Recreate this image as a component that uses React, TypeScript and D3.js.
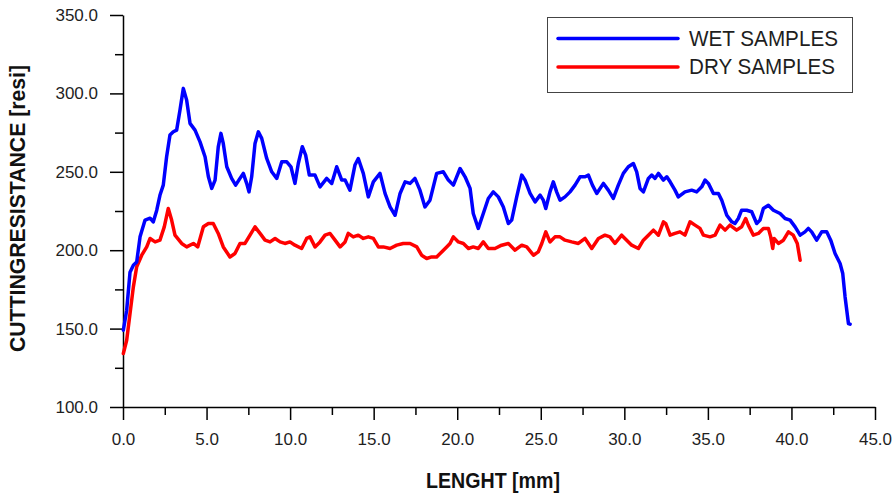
import * as d3 from "d3";
import { useRef, useEffect } from "react";

// длина образца, мм (влажные)
const wetLength = [
  0.02, 0.22, 0.42, 0.62, 0.82, 1.02, 1.32, 1.62, 1.81, 2.02, 2.21, 2.41, 2.61, 2.81, 3.01, 3.21, 3.41, 3.61, 3.81, 4.01,
  4.31, 4.61, 4.91, 5.11, 5.31, 5.51, 5.7, 5.86, 6.0, 6.21, 6.5, 6.74, 7.0, 7.2, 7.4, 7.54, 7.7, 7.9, 8.1, 8.3,
  8.6, 8.9, 9.2, 9.5, 9.8, 10.05, 10.29, 10.49, 10.73, 10.93, 11.15, 11.49, 11.79, 12.19, 12.49, 12.79, 13.09, 13.29, 13.58, 13.88,
  14.08, 14.38, 14.68, 14.98, 15.38, 15.68, 15.98, 16.28, 16.58, 16.88, 17.18, 17.47, 17.77, 18.07, 18.37, 18.77, 19.17, 19.47, 19.77, 20.17,
  20.47, 20.77, 20.96, 21.26, 21.56, 21.86, 22.16, 22.46, 22.76, 23.06, 23.26, 23.56, 23.86, 24.06, 24.36, 24.66, 24.96, 25.15, 25.3, 25.55,
  25.75, 25.95, 26.15, 26.45, 26.75, 27.05, 27.35, 27.65, 27.85, 28.09, 28.35, 28.75, 29.04, 29.34, 29.64, 29.94, 30.24, 30.54, 30.74, 30.94,
  31.14, 31.44, 31.64, 31.84, 32.04, 32.34, 32.54, 32.74, 33.03, 33.23, 33.63, 34.03, 34.33, 34.63, 34.83, 35.03, 35.33, 35.63, 35.83, 36.13,
  36.43, 36.62, 36.82, 37.02, 37.32, 37.62, 37.92, 38.12, 38.32, 38.62, 38.92, 39.32, 39.62, 39.92, 40.22, 40.52, 40.81, 41.01, 41.21, 41.51,
  41.81, 42.11, 42.35, 42.61, 42.91, 43.07, 43.21, 43.41, 43.51,
];
const wetResistance = [
  149, 161.7, 186, 190.4, 192.5, 208.5, 219.2, 220.4, 218, 225.5, 235, 241.5, 259.6, 273.4, 275.5, 276.6, 289.4, 303.2, 295.7, 280.9,
  276.6, 269.1, 259.6, 246.8, 239.4, 244.7, 265.9, 274.5, 268.1, 253.2, 245.8, 241.5, 245.8, 249, 242.6, 237.2, 246.8, 268.1, 275.5, 271.3,
  258.5, 250, 245.8, 256.4, 256.4, 253.2, 242.6, 255.3, 266, 260.6, 247.9, 247.9, 240.4, 245.8, 242.6, 253.2, 244.7, 244.7, 238.3, 254.3,
  258.5, 249, 234, 243.6, 249, 236.2, 227.6, 222.3, 236.2, 243.6, 242.6, 245.8, 238.3, 227.6, 231.9, 249, 250, 244.7, 241.5, 252.1,
  246.8, 239.4, 223.4, 213.9, 223.4, 233, 237.2, 234, 227.6, 217, 219.2, 234, 247.9, 244.7, 236.2, 230.8, 235.1, 231.9, 226.6, 237.2,
  243.6, 237.2, 231.9, 234, 237.2, 241.5, 246.8, 246.8, 247.9, 241.5, 236.2, 242.6, 238.3, 233, 241.5, 249, 253.2, 255.3, 250, 239.4,
  237.2, 245.8, 247.9, 245.8, 249, 244.7, 246.8, 243.6, 238.3, 234, 237.2, 238.3, 237.2, 240.4, 244.7, 242.6, 236.2, 236.2, 231.9, 222.3,
  218.1, 217, 220.2, 225.5, 225.5, 224.5, 217, 219.2, 226.6, 228.7, 225.5, 223.4, 220.2, 219.2, 214.9, 209.6, 211.7, 213.9, 211.7, 206.4,
  211.7, 211.7, 206.4, 197.9, 191.5, 185.1, 170.2, 153.2, 152.8,
];

// сухие образцы
const dryLength = [
  0.02, 0.22, 0.42, 0.62, 0.82, 1.12, 1.42, 1.62, 1.92, 2.21, 2.47, 2.71, 2.91, 3.11, 3.51, 3.81, 4.21, 4.47, 4.81, 5.11,
  5.4, 5.7, 6.0, 6.4, 6.7, 7.0, 7.3, 7.6, 7.9, 8.2, 8.5, 8.8, 9.1, 9.4, 9.69, 9.99, 10.29, 10.69, 10.99, 11.19,
  11.49, 11.79, 12.09, 12.39, 12.69, 12.99, 13.29, 13.48, 13.78, 14.08, 14.38, 14.68, 14.98, 15.28, 15.58, 15.98, 16.38, 16.77, 17.18, 17.58,
  17.87, 18.17, 18.47, 18.77, 19.07, 19.37, 19.57, 19.77, 20.07, 20.37, 20.67, 20.96, 21.26, 21.56, 21.86, 22.26, 22.66, 23.06, 23.46, 23.86,
  24.16, 24.56, 24.85, 25.06, 25.3, 25.55, 25.85, 26.15, 26.45, 26.85, 27.25, 27.65, 28.05, 28.45, 28.84, 29.14, 29.44, 29.84, 30.14, 30.44,
  30.84, 31.14, 31.44, 31.74, 32.04, 32.34, 32.48, 32.74, 33.03, 33.33, 33.63, 33.93, 34.23, 34.53, 34.73, 35.13, 35.43, 35.73, 36.03, 36.32,
  36.72, 37.02, 37.26, 37.42, 37.72, 38.02, 38.32, 38.62, 38.76, 38.88, 38.96, 39.22, 39.52, 39.82, 40.11, 40.35, 40.52,
];
const dryResistance = [
  134.1, 142.6, 159.6, 176.6, 189.4, 196.8, 202.1, 207.5, 205.3, 206.4, 214.9, 226.6, 219.2, 209.6, 204.3, 202.1, 204.3, 202.1, 214.9, 217,
  217, 210.7, 202.1, 195.7, 197.9, 204.3, 204.3, 209.6, 214.9, 210.7, 206.4, 205.3, 207.5, 205.3, 204.3, 205.3, 203.2, 201.1, 207.5, 208.5,
  202.1, 205.3, 209.6, 210.7, 206.4, 202.1, 205.3, 210.7, 208.5, 209.6, 207.5, 208.5, 207.5, 202.1, 202.1, 201.1, 203.2, 204.3, 204.3, 202.1,
  196.8, 194.7, 195.7, 195.7, 198.9, 202.1, 204.3, 208.5, 205.3, 204.3, 201.1, 202.1, 201.1, 205.3, 201.1, 201.1, 203.2, 204.3, 200, 203.2,
  202.1, 196.8, 198.9, 204.3, 211.7, 205.3, 208.5, 208.5, 206.4, 205.3, 204.3, 207.5, 201.1, 207.5, 209.6, 208.5, 204.3, 209.6, 206.4, 203.2,
  201.1, 206.4, 209.6, 212.8, 209.6, 218.1, 217, 209.6, 210.7, 211.7, 209.6, 218.1, 216, 213.9, 209.6, 208.5, 209.6, 216, 212.8, 216,
  212.8, 214.9, 220.2, 216, 209.6, 210.7, 213.9, 213.9, 208.5, 201.1, 207.5, 204.3, 206.4, 211.7, 209.6, 204.3, 193.6,
];

const xMajorTicks = [0, 5, 10, 15, 20, 25, 30, 35, 40, 45];
const xMinorTicks = [2.5, 7.5, 12.5, 17.5, 22.5, 27.5, 32.5, 37.5, 42.5];
const yMajorTicks = [100, 150, 200, 250, 300, 350];
const yMinorTicks = [125, 175, 225, 275, 325];

const seriesNames = ["WET SAMPLES", "DRY SAMPLES"];
const seriesColors = ["#0000ff", "#ff0000"];

const App = () => {
  const chartRef = useRef(null);

  const width = 892;
  const height = 493;

  // границы области графика
  const plot = { left: 123, right: 875, top: 15, bottom: 407 };

  useEffect(() => {
    const svg = d3.select(chartRef.current);
    svg.selectAll("*").remove();

    const scaleX = d3.scaleLinear().domain([0, 45]).range([plot.left, plot.right]);
    const scaleY = d3.scaleLinear().domain([100, 350]).range([plot.bottom, plot.top]);

    // ось X
    const xAxis = svg.append("g").attr("transform", `translate(0, ${plot.bottom})`);
    xAxis.call(d3.axisBottom(scaleX).tickValues(xMajorTicks).tickSize(13).tickSizeOuter(0).tickFormat(d3.format(".1f")));
    xAxis.append("g").call(d3.axisBottom(scaleX).tickValues(xMinorTicks).tickSize(8).tickSizeOuter(0).tickFormat(() => ""))
      .select(".domain").remove();
    xAxis.selectAll("path, line").attr("stroke", "#000").attr("stroke-width", 1.5);
    xAxis.selectAll("text")
      .attr("y", 26)
      .attr("dy", "0.71em")
      .style("font-family", "Arial, 'Liberation Sans', sans-serif")
      .style("font-size", "17px")
      .attr("fill", "#1e1e1e");

    // ось Y
    const yAxis = svg.append("g").attr("transform", `translate(${plot.left}, 0)`);
    yAxis.call(d3.axisLeft(scaleY).tickValues(yMajorTicks).tickSize(13).tickSizeOuter(0).tickFormat(d3.format(".1f")));
    yAxis.append("g").call(d3.axisLeft(scaleY).tickValues(yMinorTicks).tickSize(8).tickSizeOuter(0).tickFormat(() => ""))
      .select(".domain").remove();
    yAxis.selectAll("path, line").attr("stroke", "#000").attr("stroke-width", 1.5);
    yAxis.selectAll("text")
      .attr("x", -25)
      .style("font-family", "Arial, 'Liberation Sans', sans-serif")
      .style("font-size", "17px")
      .attr("fill", "#1e1e1e");

    // кривые
    const drawSeries = (xs: number[], ys: number[], color: string) => {
      const pts: [number, number][] = xs.map((x, i) => [x, ys[i]]);
      const path = d3.line<[number, number]>()
        .x(d => scaleX(d[0]))
        .y(d => scaleY(d[1]))
        .curve(d3.curveLinear);
      svg.append("path")
        .attr("d", path(pts))
        .attr("fill", "none")
        .attr("stroke", color)
        .attr("stroke-width", 3.5)
        .attr("stroke-linejoin", "round")
        .attr("stroke-linecap", "round");
    };

    drawSeries(dryLength, dryResistance, seriesColors[1]);
    drawSeries(wetLength, wetResistance, seriesColors[0]);

    // легенда
    const legend = svg.append("g");
    legend.append("rect")
      .attr("x", 547.5).attr("y", 17.5)
      .attr("width", 305).attr("height", 75)
      .attr("fill", "#fff")
      .attr("stroke", "#444").attr("stroke-width", 1);
    seriesNames.forEach((name, i) => {
      const yy = 38.5 + i * 28.5;
      legend.append("line")
        .attr("x1", 558).attr("x2", 678)
        .attr("y1", yy).attr("y2", yy)
        .attr("stroke", seriesColors[i])
        .attr("stroke-width", 3.5)
        .attr("stroke-linecap", "round");
      legend.append("text")
        .attr("x", 689).attr("y", yy + 7)
        .attr("textLength", i === 0 ? 149 : 146)
        .attr("lengthAdjust", "spacingAndGlyphs")
        .style("font-family", "Arial, 'Liberation Sans', sans-serif")
        .style("font-size", "22px")
        .attr("fill", "#1e1e1e")
        .text(name);
    });

    // подписи осей
    svg.append("text")
      .attr("x", 426).attr("y", 488)
      .attr("textLength", 134)
      .attr("lengthAdjust", "spacingAndGlyphs")
      .style("font-family", "Arial, 'Liberation Sans', sans-serif")
      .style("font-size", "22px")
      .style("font-weight", "bold")
      .attr("fill", "#111")
      .text("LENGHT [mm]");

    svg.append("text")
      .attr("transform", "translate(25, 352) rotate(-90)")
      .attr("textLength", 287)
      .attr("lengthAdjust", "spacingAndGlyphs")
      .style("font-family", "Arial, 'Liberation Sans', sans-serif")
      .style("font-size", "22px")
      .style("font-weight", "bold")
      .attr("fill", "#111")
      .text("CUTTINGRESISTANCE [resi]");
  }, []);

  return (
    <svg
      ref={chartRef}
      width={width}
      height={height}
      style={{ position: "absolute", left: 0, top: 0, background: "#fff", display: "block" }}
    ></svg>
  );
};

export default App;
